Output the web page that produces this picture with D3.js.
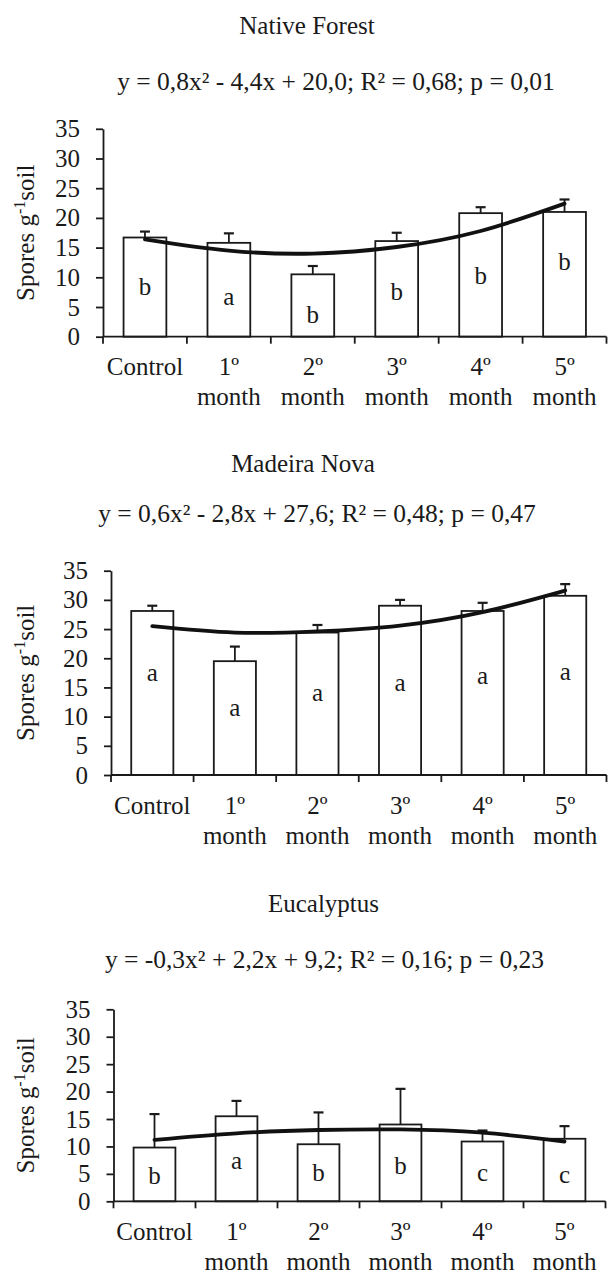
<!DOCTYPE html>
<html>
<head>
<meta charset="utf-8">
<script src="https://cdn.jsdelivr.net/npm/d3@7"></script>
<style>
  body { margin: 0; background: #fff; }
  text { font-family: "Liberation Serif", "Times New Roman", serif; fill: #1a1a1a; }
</style>
</head>
<body>
<div class="chart"></div>
<script>
/* data */
const categories = ["Control", "1º", "2º", "3º", "4º", "5º"];
const subLabels = ["", "month", "month", "month", "month", "month"];
const yTicks = [0, 5, 10, 15, 20, 25, 30, 35];

const forestMeans = [16.7, 15.8, 10.5, 16.1, 20.8, 21.0];
const forestErr = [1.0, 1.6, 1.4, 1.4, 1.0, 2.1];
const forestTrend = [16.4, 14.5, 14.0, 15.1, 17.8, 22.4];
const forestLetters = ["b", "a", "b", "b", "b", "b"];
const forestLetterAt = [8.3, 6.7, 3.7, 7.6, 10.2, 12.5];

const madeiraMeans = [28.1, 19.5, 24.4, 29.0, 28.1, 30.7];
const madeiraErr = [0.9, 2.5, 1.3, 1.0, 1.4, 2.0];
const madeiraTrend = [25.5, 24.4, 24.6, 25.6, 27.9, 31.6];
const madeiraLetters = ["a", "a", "a", "a", "a", "a"];
const madeiraLetterAt = [17.5, 11.4, 14.0, 15.8, 17.0, 17.6];

const eucaMeans = [9.8, 15.5, 10.4, 14.0, 10.9, 11.4];
const eucaErr = [6.1, 2.8, 5.8, 6.5, 2.0, 2.3];
const eucaTrend = [11.2, 12.4, 13.0, 13.1, 12.5, 10.9];
const eucaLetters = ["b", "a", "b", "b", "c", "c"];
const eucaLetterAt = [4.7, 7.4, 5.1, 6.5, 5.1, 4.8];

const titles = ["Native Forest", "Madeira Nova", "Eucalyptus"];
const equations = [
  "y = 0,8x² - 4,4x + 20,0; R² = 0,68; p = 0,01",
  "y = 0,6x² - 2,8x + 27,6; R² = 0,48; p = 0,47",
  "y = -0,3x² + 2,2x + 9,2; R² = 0,16; p = 0,23"
];

/* panel layout (page pixels) */
const panels = [
  {means: forestMeans, err: forestErr, trend: forestTrend, letters: forestLetters, letterAt: forestLetterAt,
   left: 103, right: 606.5, top: 128.8, bottom: 336.7, titleX: 307, titleY: 33.5, eqX: 336, eqY: 90},
  {means: madeiraMeans, err: madeiraErr, trend: madeiraTrend, letters: madeiraLetters, letterAt: madeiraLetterAt,
   left: 111, right: 606.5, top: 570.7, bottom: 775, titleX: 303, titleY: 472, eqX: 317, eqY: 521.7},
  {means: eucaMeans, err: eucaErr, trend: eucaTrend, letters: eucaLetters, letterAt: eucaLetterAt,
   left: 113.5, right: 605.5, top: 1009.3, bottom: 1201.3, titleX: 323.5, titleY: 911.7, eqX: 324.5, eqY: 968.3}
];

const W = 608, H = 1275;
const ink = "#1a1a1a";

const svg = d3.select(".chart").append("svg")
  .attr("width", W)
  .attr("height", H);

panels.forEach((p, k) => {
  const g = svg.append("g");

  const xScale = d3.scaleBand()
    .domain(categories)
    .range([p.left, p.right])
    .paddingInner(0.49)
    .paddingOuter(0.245);
  const step = (p.right - p.left) / categories.length;
  const yScale = d3.scaleLinear().domain([0, 35]).range([p.bottom, p.top]);
  const cx = c => xScale(c) + xScale.bandwidth() / 2;

  // title + equation
  g.append("text")
    .attr("x", p.titleX).attr("y", p.titleY)
    .attr("text-anchor", "middle")
    .style("font-size", "25px")
    .text(titles[k]);
  g.append("text")
    .attr("x", p.eqX).attr("y", p.eqY)
    .attr("text-anchor", "middle")
    .style("font-size", "25.5px")
    .text(equations[k]);

  // y axis
  const yAxis = d3.axisLeft(yScale).tickValues(yTicks).tickSize(7).tickPadding(16).tickSizeOuter(0);
  const ya = g.append("g")
    .attr("transform", `translate(${p.left},0)`)
    .call(yAxis);
  ya.select(".domain").attr("stroke", ink).attr("stroke-width", 1.8);
  ya.selectAll(".tick line").attr("stroke", ink).attr("stroke-width", 1.8);
  ya.selectAll(".tick text")
    .style("font-size", "25px")
    .style("font-family", "Liberation Serif, serif")
    .attr("fill", ink);

  // y title
  const yt = g.append("text")
    .attr("transform", `translate(34,${(p.top + p.bottom) / 2}) rotate(-90)`)
    .attr("text-anchor", "middle")
    .style("font-size", "25px");
  yt.append("tspan").text("Spores g");
  yt.append("tspan").attr("dy", -9).style("font-size", "16px").text("-1");
  yt.append("tspan").attr("dy", 9).text("soil");

  // bars
  g.selectAll("rect.bar")
    .data(p.means)
    .enter().append("rect")
    .attr("class", "bar")
    .attr("x", (d, i) => xScale(categories[i]))
    .attr("y", d => yScale(d))
    .attr("width", xScale.bandwidth())
    .attr("height", d => p.bottom - yScale(d))
    .attr("fill", "#fff")
    .attr("stroke", ink)
    .attr("stroke-width", 1.8);

  // error bars
  const eb = g.selectAll("g.err")
    .data(p.means)
    .enter().append("g")
    .attr("class", "err");
  eb.append("line")
    .attr("x1", (d, i) => cx(categories[i]))
    .attr("x2", (d, i) => cx(categories[i]))
    .attr("y1", d => yScale(d))
    .attr("y2", (d, i) => yScale(d + p.err[i]))
    .attr("stroke", ink).attr("stroke-width", 1.8);
  eb.append("line")
    .attr("x1", (d, i) => cx(categories[i]) - 5)
    .attr("x2", (d, i) => cx(categories[i]) + 5)
    .attr("y1", (d, i) => yScale(d + p.err[i]))
    .attr("y2", (d, i) => yScale(d + p.err[i]))
    .attr("stroke", ink).attr("stroke-width", 2.2);

  // x axis (ticks at category boundaries)
  g.append("line")
    .attr("x1", p.left).attr("x2", p.right)
    .attr("y1", p.bottom).attr("y2", p.bottom)
    .attr("stroke", ink).attr("stroke-width", 1.8);
  g.selectAll("line.xtick")
    .data(d3.range(categories.length + 1))
    .enter().append("line")
    .attr("class", "xtick")
    .attr("x1", i => p.left + i * step)
    .attr("x2", i => p.left + i * step)
    .attr("y1", p.bottom)
    .attr("y2", p.bottom + 7)
    .attr("stroke", ink).attr("stroke-width", 1.8);

  g.selectAll("text.xl")
    .data(categories)
    .enter().append("text")
    .attr("class", "xl")
    .attr("x", d => cx(d))
    .attr("y", p.bottom + 38.5)
    .attr("text-anchor", "middle")
    .style("font-size", "25px")
    .text(d => d);
  g.selectAll("text.xl2")
    .data(subLabels)
    .enter().append("text")
    .attr("class", "xl2")
    .attr("x", (d, i) => cx(categories[i]))
    .attr("y", p.bottom + 68.5)
    .attr("text-anchor", "middle")
    .style("font-size", "25px")
    .text(d => d);

  // trend curve
  const line = d3.line()
    .x((d, i) => cx(categories[i]))
    .y(d => yScale(d))
    .curve(d3.curveNatural);
  g.append("path")
    .datum(p.trend)
    .attr("d", line)
    .attr("fill", "none")
    .attr("stroke", "#111")
    .attr("stroke-width", 3.8)
    .attr("stroke-linecap", "round");

  // significance letters
  g.selectAll("text.letter")
    .data(p.letters)
    .enter().append("text")
    .attr("class", "letter")
    .attr("x", (d, i) => cx(categories[i]))
    .attr("y", (d, i) => yScale(p.letterAt[i]))
    .attr("dy", "0.32em")
    .attr("text-anchor", "middle")
    .style("font-size", "25px")
    .text(d => d);
});
</script>
</body>
</html>
